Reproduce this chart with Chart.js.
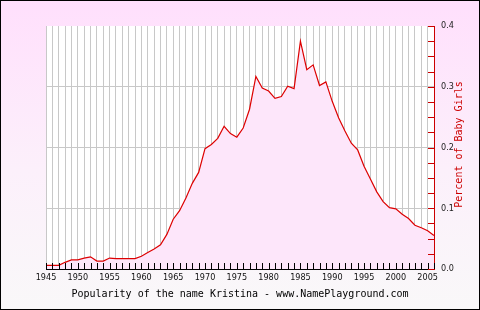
<!DOCTYPE html>
<html>
<head>
<meta charset="utf-8">
<script src="https://cdn.jsdelivr.net/npm/chart.js@4/dist/chart.umd.min.js"></script>
<style>
  html, body { margin: 0; padding: 0; }
  #wrap {
    position: relative;
    width: 480px; height: 310px;
    background: linear-gradient(to bottom, #ffdffc 0%, #fcf0fb 55%, #f9f8f9 100%);
    box-shadow: inset 0 0 0 1px #000;
  }
</style>
</head>
<body>
<div id="wrap"><canvas id="nameChart" width="480" height="310"></canvas></div>
<script>
// Popularity of Kristina, percent of baby girls per year
const years = [];
for (let y = 1945; y <= 2006; y++) years.push(y);

const percent = [
  0.006, 0.006, 0.006, 0.011, 0.015, 0.015, 0.018, 0.020, 0.013, 0.013,  // 1945-54
  0.018, 0.017, 0.017, 0.017, 0.017, 0.021, 0.027, 0.033, 0.040, 0.057,  // 1955-64
  0.082, 0.096, 0.117, 0.141, 0.159, 0.198, 0.205, 0.215, 0.235, 0.223,  // 1965-74
  0.217, 0.232, 0.263, 0.317, 0.298, 0.293, 0.281, 0.284, 0.301, 0.297,  // 1975-84
  0.375, 0.328, 0.336, 0.302, 0.308, 0.276, 0.249, 0.227, 0.207, 0.196,  // 1985-94
  0.169, 0.148, 0.127, 0.111, 0.101, 0.099, 0.090, 0.083, 0.072, 0.068,  // 1995-2004
  0.063, 0.055                                                           // 2005-06
];

const yLabels = ['0.0', '0.1', '0.2', '0.3', '0.4'];

const tickFont = { family: '"DejaVu Sans Condensed", "DejaVu Sans", sans-serif', size: 9 };
const monoFont = { family: '"DejaVu Sans Mono", monospace', size: 10 };

// white plot area + inner tick marks + vertical y title
const plotDeco = {
  id: 'plotDeco',
  beforeDraw(chart) {
    const { ctx, chartArea: a } = chart;
    ctx.save();
    ctx.fillStyle = '#ffffff';
    ctx.fillRect(a.left, a.top, a.right - a.left, a.bottom - a.top);
    ctx.restore();
  },
  afterDraw(chart) {
    const { ctx, chartArea: a, scales } = chart;
    ctx.save();
    ctx.lineWidth = 1;
    ctx.strokeStyle = '#000';
    ctx.beginPath();
    scales.x.ticks.forEach(t => {
      const px = Math.round(scales.x.getPixelForValue(t.value)) + 0.5;
      ctx.moveTo(px, a.bottom);
      ctx.lineTo(px, a.bottom - 6);
    });
    ctx.stroke();
    ctx.strokeStyle = '#cc0000';
    ctx.beginPath();
    scales.y.ticks.forEach(t => {
      const py = Math.round(scales.y.getPixelForValue(t.value)) + 0.5;
      ctx.moveTo(a.right, py);
      ctx.lineTo(a.right - 6, py);
    });
    ctx.stroke();

    ctx.translate(459, (a.top + a.bottom) / 2 - 3);
    ctx.rotate(-Math.PI / 2);
    ctx.fillStyle = '#cc0000';
    ctx.font = '10px "DejaVu Sans Mono", monospace';
    ctx.textAlign = 'center';
    ctx.textBaseline = 'middle';
    ctx.fillText('Percent of Baby Girls', 0, 0);
    ctx.restore();
  }
};

new Chart(document.getElementById('nameChart'), {
  type: 'line',
  data: {
    datasets: [{
      data: years.map((y, i) => ({ x: y, y: percent[i] })),
      borderColor: '#dd0000',
      borderWidth: 1.2,
      backgroundColor: '#fde6fa',
      fill: 'origin',
      pointRadius: 0,
      tension: 0
    }]
  },
  options: {
    responsive: false,
    animation: false,
    layout: { padding: { left: 46, top: 26, right: 0, bottom: 0 } },
    plugins: { legend: { display: false }, tooltip: { enabled: false } },
    scales: {
      x: {
        type: 'linear',
        min: 1945,
        max: 2006,
        afterFit(scale) { scale.height = 41; },
        grid: { color: '#c8c8c8', drawTicks: false },
        border: { color: '#000', width: 1 },
        ticks: {
          stepSize: 1,
          maxTicksLimit: 100,
          autoSkip: false,
          maxRotation: 0,
          padding: 3,
          color: '#111',
          font: tickFont,
          callback: v => (v % 5 === 0 ? String(v) : '')
        },
        title: {
          display: true,
          text: 'Popularity of the name Kristina - www.NamePlayground.com',
          color: '#000',
          font: monoFont,
          padding: { top: 0, bottom: 10 }
        }
      },
      y: {
        position: 'right',
        min: 0,
        max: 0.4,
        afterFit(scale) { scale.width = 46; },
        grid: {
          drawTicks: false,
          color: ctx => {
            const k = Math.round(ctx.tick.value * 1000);
            return (k % 100 === 0 && k > 0 && k < 400) ? '#c8c8c8' : 'rgba(0,0,0,0)';
          }
        },
        border: { color: '#cc0000', width: 1 },
        ticks: {
          stepSize: 0.025,
          maxTicksLimit: 30,
          autoSkip: false,
          padding: 7,
          color: '#222',
          font: tickFont,
          callback: v => {
            const k = Math.round(v * 1000);
            return k % 100 === 0 ? yLabels[k / 100] : '';
          }
        }
      }
    }
  },
  plugins: [plotDeco]
});
</script>
</body>
</html>
